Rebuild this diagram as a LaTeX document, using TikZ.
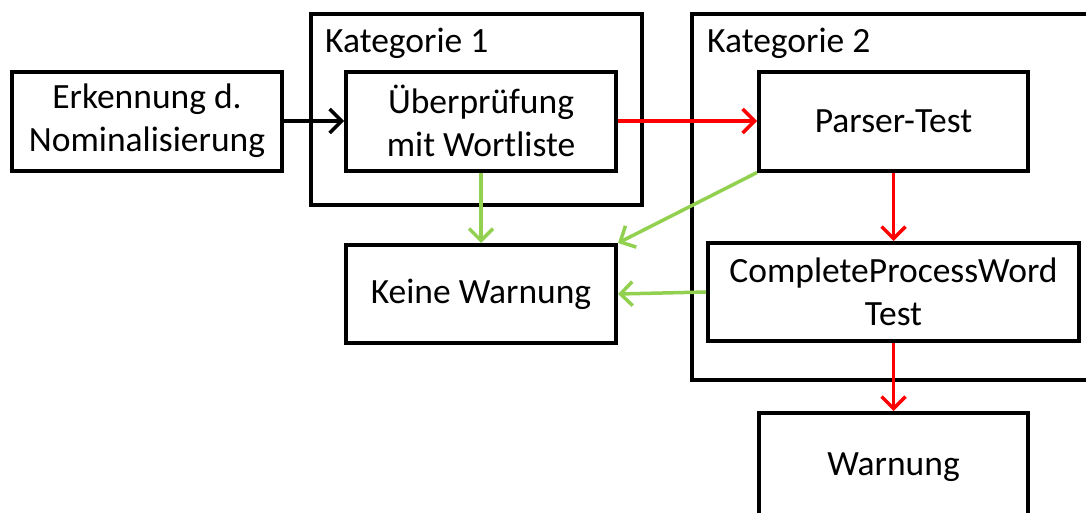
\documentclass[tikz,border=0pt]{standalone}
\usepackage{fontspec}
\setmainfont{Carlito}
\usetikzlibrary{arrows.meta}
\definecolor{okgreen}{HTML}{92D050}
\tikzset{
  box/.style={draw, line width=4pt, align=center, inner sep=0pt,
    font=\fontsize{35.5}{43}\selectfont},
  frame/.style={draw, line width=4pt},
  cat/.style={anchor=base west, inner sep=0pt, font=\fontsize{35.5}{43}\selectfont},
  flow/.style={line width=3.5pt, -{Straight Barb[length=12pt,width=24pt,line width=3.5pt]}},
}
\begin{document}
\begin{tikzpicture}[x=1pt,y=-1pt]
  \clip (0,0) rectangle (1086,512);
  \fill[white] (0,0) rectangle (1086,512);

  % category frames
  \draw[frame] (311,14) rectangle (642,205);
  \draw[frame] (692,14) rectangle (1110,380);
  \node[cat] (k1) at (325,52) {Kategorie 1};
  \node[cat] (k2) at (707,52) {Kategorie 2};

  % process boxes
  \node[box, minimum width=270pt, minimum height=99pt] (erk) at (147,121)
    {Erkennung d.\\Nominalisierung};
  \node[box, minimum width=270pt, minimum height=99pt] (ueb) at (481,121)
    {Überprüfung\\mit Wortliste};
  \node[box, minimum width=270pt, minimum height=98pt] (keine) at (481,294)
    {Keine Warnung};
  \node[box, minimum width=269pt, minimum height=99pt] (parser) at (893.5,121)
    {Parser-Test};
  \node[box, minimum width=371pt, minimum height=98pt] (cpw) at (893.5,292)
    {CompleteProcessWord\\Test};
  \node[box, minimum width=269pt, minimum height=108pt] (warn) at (893.5,467)
    {Warnung};

  % connectors
  \draw[flow, black] (erk.east) -- (ueb.west);
  \draw[flow, red] (ueb.east) -- (parser.west);
  \draw[flow, okgreen] (ueb.south) -- (keine.north);
  \draw[flow, okgreen] (parser.south west) -- (keine.north east);
  \draw[flow, okgreen] (cpw.west) -- (keine.east);
  \draw[flow, red] (parser.south) -- (cpw.north);
  \draw[flow, red] (cpw.south) -- (warn.north);
\end{tikzpicture}
\end{document}
